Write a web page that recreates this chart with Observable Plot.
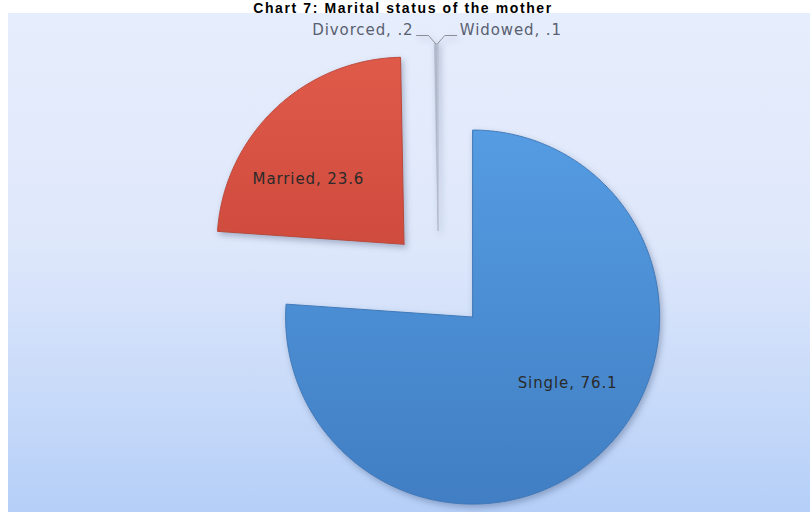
<!DOCTYPE html>
<html><head><meta charset="utf-8">
<script src="https://cdn.jsdelivr.net/npm/d3@7"></script>
<script src="https://cdn.jsdelivr.net/npm/@observablehq/plot@0.6"></script>
<style>
html,body{margin:0;padding:0;background:#fff;}
#wrap{position:relative;width:810px;height:512px;overflow:hidden;background:#fff;}
#title{position:absolute;left:0;width:806px;top:1px;text-align:center;font:bold 14px/14px "Liberation Sans",Arial,sans-serif;letter-spacing:1.6px;color:#000;white-space:nowrap;z-index:2;}
#panel{position:absolute;left:8px;top:13px;width:802px;height:499px;background:linear-gradient(to bottom,#e6edfc 0%,#dfe8fb 45%,#c9dbf9 75%,#b5cff8 100%);}
#panel svg g[aria-label="line"] path{filter:drop-shadow(2px 3px 3px rgba(20,40,80,0.3));}
#panel svg text{letter-spacing:0.9px;}
</style></head><body>
<div id="wrap"><div id="panel"></div><div id="title">Chart 7: Marital status of the mother</div></div>
<script>
// ---- data ----
const categories = ["Single", "Married", "Divorced", "Widowed"];
const values = [76.1, 23.6, 0.2, 0.1];
const valueLabels = ["76.1", "23.6", ".2", ".1"];

// ---- styling ----
const fills = {Single: "url(#gBlue)", Married: "url(#gRed)", Divorced: "#b7bfcf", Widowed: "#c0c8d6"};
const strokes = {Single: "#3f78b8", Married: "#b9483b", Divorced: "#aab2c2", Widowed: "#b0b8c7"};
const W = 802, H = 499, R = 187, CX = 430, CY = 267;   // layout (px)
const explode = 50 / R;
const px = v => v / R;

const rows = categories.map((c, i) => ({cat: c, value: values[i], label: valueLabels[i]}));
const arcs = d3.pie().sort(null).value(d => d.value).startAngle(0).endAngle(2 * Math.PI)(rows);

// slice outlines (pie angles clockwise from 12 o'clock)
const pts = [];
const geom = {};
for (const a of arcs) {
  const c = a.data.cat, m = (a.startAngle + a.endAngle) / 2;
  const ox = explode * Math.sin(m), oy = explode * Math.cos(m);
  geom[c] = {ox, oy, m};
  pts.push({cat: c, x: ox, y: oy, fill: fills[c], stroke: strokes[c]});
  const n = Math.max(2, Math.ceil((a.endAngle - a.startAngle) / (Math.PI / 360)));
  for (let k = 0; k <= n; k++) {
    const t = a.startAngle + (a.endAngle - a.startAngle) * k / n;
    pts.push({cat: c, x: ox + Math.sin(t), y: oy + Math.cos(t), fill: fills[c], stroke: strokes[c]});
  }
  pts.push({cat: c, x: ox, y: oy, fill: fills[c], stroke: strokes[c]});
}
const bigCats = new Set(arcs.filter(a => a.data.value > 5).map(a => a.data.cat));

// inside labels
const labelTurn = -12 * Math.PI / 180, labelR = 0.62;
const inside = arcs.filter(a => a.data.value > 5).map(a => {
  const g = geom[a.data.cat], t = g.m + labelTurn;
  return {x: g.ox + labelR * Math.sin(t), y: g.oy + labelR * Math.cos(t), text: `${a.data.cat}, ${a.data.label}`};
});

// outside labels with leader lines for tiny slices
const small = arcs.filter(a => a.data.value <= 5);
const outside = [], leaders = [];
small.forEach((a, i) => {
  const g = geom[a.data.cat];
  const o = {x: g.ox + Math.sin(g.m), y: g.oy + Math.cos(g.m)};
  const s = i === 0 ? -1 : 1;
  leaders.push({cat: a.data.cat, x: o.x, y: o.y});
  leaders.push({cat: a.data.cat, x: o.x + s * px(7), y: o.y + px(8)});
  leaders.push({cat: a.data.cat, x: o.x + s * px(19), y: o.y + px(8)});
  outside.push({x: o.x + s * px(22), y: o.y + px(13), text: `${a.data.cat}, ${a.data.label}`, anchor: s < 0 ? "end" : "start"});
});

const plot = Plot.plot({
  width: W, height: H, margin: 0,
  x: {domain: [-CX / R, (W - CX) / R], axis: null},
  y: {domain: [-(H - CY) / R, CY / R], axis: null},
  color: {type: "identity"},
  style: {background: "transparent", overflow: "visible"},
  marks: [
    Plot.line(pts, {x: "x", y: "y", z: "cat", fill: "fill", stroke: "stroke", strokeWidth: 1, curve: "linear", filter: d => bigCats.has(d.cat)}),
    Plot.line(pts, {x: "x", y: "y", z: "cat", fill: "fill", stroke: "stroke", strokeWidth: 0.4, curve: "linear", filter: d => !bigCats.has(d.cat)}),
    Plot.line(leaders, {x: "x", y: "y", z: "cat", stroke: "#8a8f99", strokeWidth: 1}),
    Plot.text(inside, {x: "x", y: "y", text: "text", fill: "#2a2a2a", fontSize: 15, fontFamily: "DejaVu Sans"}),
    Plot.text(outside, {x: "x", y: "y", text: "text", textAnchor: "end", fill: "#596070", fontSize: 15, fontFamily: "DejaVu Sans", filter: d => d.anchor === "end"}),
    Plot.text(outside, {x: "x", y: "y", text: "text", textAnchor: "start", fill: "#596070", fontSize: 15, fontFamily: "DejaVu Sans", filter: d => d.anchor === "start"})
  ]
});

const defs = d3.select(plot).insert("defs", ":first-child");
const gb = defs.append("linearGradient").attr("id", "gBlue").attr("x1", 0).attr("y1", 0).attr("x2", 0).attr("y2", 1);
gb.append("stop").attr("offset", "0%").attr("stop-color", "#559ce2");
gb.append("stop").attr("offset", "100%").attr("stop-color", "#417ec3");
const gr = defs.append("linearGradient").attr("id", "gRed").attr("x1", 0).attr("y1", 0).attr("x2", 0).attr("y2", 1);
gr.append("stop").attr("offset", "0%").attr("stop-color", "#e05a4a");
gr.append("stop").attr("offset", "100%").attr("stop-color", "#cf4b3d");

document.getElementById("panel").appendChild(plot);
</script>
</body></html>
